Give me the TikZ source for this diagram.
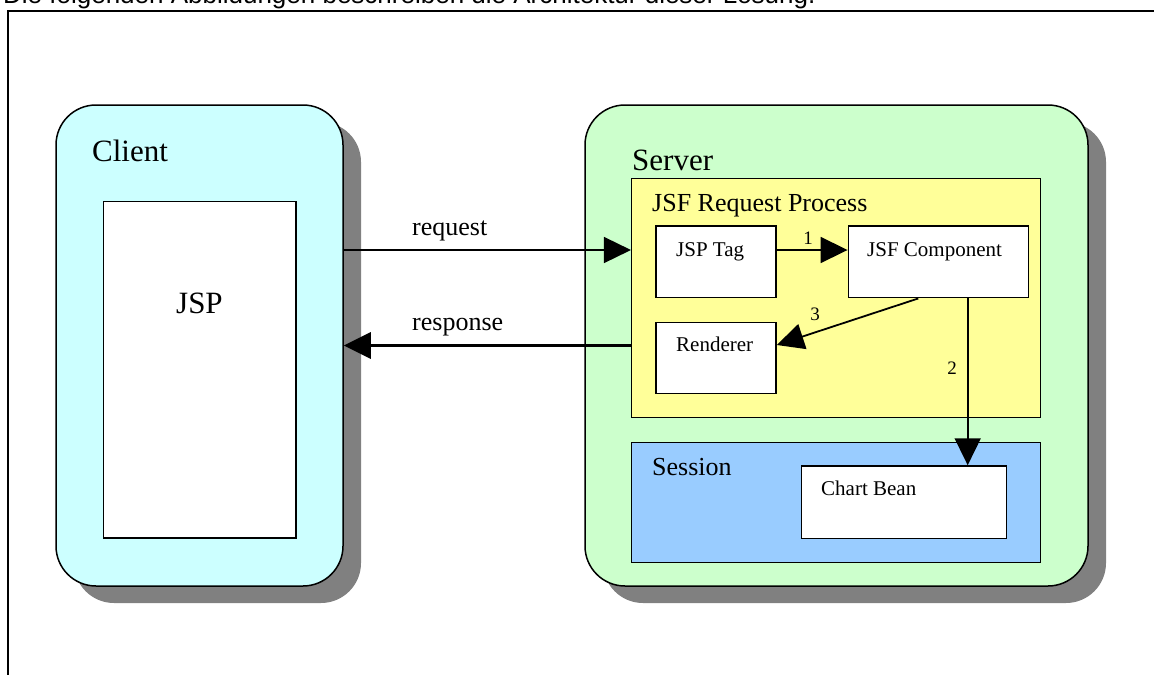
\documentclass[tikz,border=0pt]{standalone}
\usepackage{fontspec}
\setmainfont{Liberation Serif}
\newfontfamily\topfont{Liberation Sans}
\usetikzlibrary{arrows.meta,shadows,calc}
\definecolor{clientcol}{HTML}{CCFFFF}
\definecolor{servercol}{HTML}{CCFFCC}
\definecolor{yellowcol}{HTML}{FFFF99}
\definecolor{sessioncol}{HTML}{99CCFF}
\definecolor{shadowgray}{HTML}{808080}
\tikzset{
  outline/.style={draw=black, line width=1.5pt},
  tierbox/.style={outline, rounded corners=40pt, inner sep=0pt,
    drop shadow={shadow xshift=18pt, shadow yshift=-17pt, fill=shadowgray, opacity=1}},
  plainbox/.style={outline, inner sep=0pt},
  bigtxt/.style={inner sep=0pt, anchor=base west, font=\fontsize{31}{31}\selectfont},
  midtxt/.style={inner sep=0pt, anchor=base west, font=\fontsize{26}{26}\selectfont},
  smalltxt/.style={inner sep=0pt, anchor=base west, font=\fontsize{21}{21}\selectfont},
  numtxt/.style={inner sep=0pt, anchor=center, font=\fontsize{19}{19}\selectfont},
  conn/.style={line width=1.8pt, -{Triangle[length=27pt,width=26pt]}},
}
\begin{document}
\begin{tikzpicture}[x=1pt,y=-1pt]
\useasboundingbox (0,0) rectangle (1154,675);
\clip (0,0) rectangle (1154,675);
\fill[white] (0,0) rectangle (1154,675);
% heading (cut off at the top)
\node[inner sep=0pt, anchor=base west, font=\topfont\fontsize{26}{26}\selectfont] (heading) at (3,3)
  {Die folgenden Abbildungen beschreiben die Architektur dieser Lösung.};
% frame
\coordinate (ftr) at (1154,11);
\coordinate (ftl) at (8,11);
\coordinate (fbl) at (8,675);
\draw[line width=1.6pt] (ftr) -- (ftl) -- (fbl);
% tiers
\node[tierbox, fill=clientcol, minimum width=287pt, minimum height=481pt] (client) at (199.5,345.5) {};
\node[tierbox, fill=servercol, minimum width=503pt, minimum height=481pt] (server) at (836.5,345.5) {};
\node[bigtxt] (clientlbl) at (92,161) {Client};
\node[bigtxt] (serverlbl) at (632,170) {Server};
% client content
\node[plainbox, fill=white, minimum width=192.7pt, minimum height=336.3pt] (jsp) at (199.65,369.85) {};
\node[bigtxt] (jsplbl) at (176,313) {JSP};
% server content
\node[plainbox, fill=yellowcol, minimum width=408.6pt, minimum height=239.4pt] (jsfproc) at (836,298) {};
\node[midtxt] (jsfproclbl) at (652,211.5) {JSF Request Process};
\node[plainbox, fill=white, minimum width=120pt, minimum height=71.7pt] (jsptag) at (716,261.85) {};
\node[smalltxt] (jsptaglbl) at (676,256.5) {JSP Tag};
\node[plainbox, fill=white, minimum width=180pt, minimum height=71.7pt] (jsfcomp) at (938.3,261.85) {};
\node[smalltxt] (jsfcomplbl) at (867,256.5) {JSF Component};
\node[plainbox, fill=white, minimum width=120pt, minimum height=71pt] (renderer) at (716,357.8) {};
\node[smalltxt] (rendererlbl) at (676,351) {Renderer};
\node[plainbox, fill=sessioncol, minimum width=409pt, minimum height=120.4pt] (session) at (836.2,502.5) {};
\node[midtxt] (sessionlbl) at (652,475) {Session};
\node[plainbox, fill=white, minimum width=205pt, minimum height=72.3pt] (chartbean) at (904.2,502.15) {};
\node[smalltxt] (chartbeanlbl) at (821,495) {Chart Bean};
% helper coordinates
\coordinate (reqy) at (0,250);
\coordinate (c3start) at (918.3,0);
\coordinate (c3y) at (0,345);
\coordinate (c2x) at (967.7,0);
% connectors
\draw[conn, line width=1.5pt] (client.east |- reqy) -- (jsfproc.west |- reqy);
\node[midtxt] (reqlbl) at (412,235) {request};
\draw[conn, line width=3pt] (jsfproc.west |- client.east) -- (client.east);
\node[midtxt] (resplbl) at (412,330) {response};
\draw[conn] (jsptag.east |- reqy) -- (jsfcomp.west |- reqy);
\node[numtxt] (n1) at (808,238) {1};
\draw[conn] (c3start |- jsfcomp.south) -- (renderer.east |- c3y);
\node[numtxt] (n3) at (815,314) {3};
\draw[conn] (c2x |- jsfcomp.south) -- (c2x |- chartbean.north);
\node[numtxt] (n2) at (952,368) {2};
\end{tikzpicture}
\end{document}
